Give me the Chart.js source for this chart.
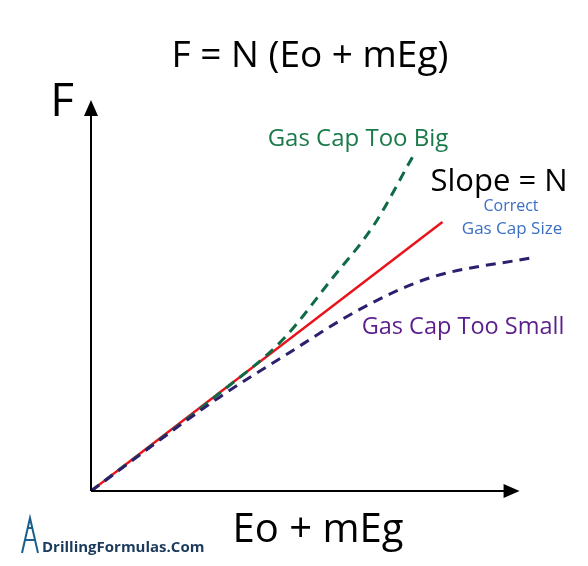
<!DOCTYPE html>
<html>
<head>
<meta charset="utf-8">
<script src="https://cdn.jsdelivr.net/npm/chart.js@4"></script>
<style>
  body { margin: 0; background: #fff; }
  #wrap { width: 588px; height: 566px; }
</style>
</head>
<body>
<div id="wrap"><canvas id="c"></canvas></div>
<script>
// data (x, y in arbitrary axis units)
const correctX = [0, 82];
const correctY = [0, 68.8];
const bigX = [0, 30, 45, 56, 66, 75];
const bigY = [0, 25, 39, 54, 68, 85.4];
const smallX = [0, 30, 45, 62.8, 79, 103.6];
const smallY = [0, 24, 34.5, 46.5, 54.5, 59.8];

const pts = (xs, ys) => xs.map((x, i) => ({ x: x, y: ys[i] }));
const FONT = '"Open Sans", "Noto Sans", sans-serif';

// axes with arrow heads plus all the labels
const decor = {
  id: 'decor',
  afterDraw(chart) {
    const ctx = chart.ctx;
    const xs = chart.scales.x, ys = chart.scales.y;
    const ox = xs.getPixelForValue(0), oy = ys.getPixelForValue(0);
    const xe = xs.getPixelForValue(100), ye = ys.getPixelForValue(100);
    ctx.save();
    ctx.strokeStyle = '#000';
    ctx.fillStyle = '#000';
    ctx.lineWidth = 2;
    ctx.beginPath();
    ctx.moveTo(ox, oy); ctx.lineTo(xe - 8, oy);
    ctx.moveTo(ox, oy); ctx.lineTo(ox, ye + 8);
    ctx.stroke();
    ctx.beginPath();
    ctx.moveTo(xe, oy); ctx.lineTo(xe - 16, oy - 7); ctx.lineTo(xe - 16, oy + 7); ctx.closePath();
    ctx.moveTo(ox, ye); ctx.lineTo(ox - 7, ye + 16); ctx.lineTo(ox + 7, ye + 16); ctx.closePath();
    ctx.fill();

    const txt = (s, x, y, size, color) => {
      ctx.font = size + 'px ' + FONT;
      ctx.fillStyle = color;
      ctx.textAlign = 'center';
      ctx.textBaseline = 'middle';
      ctx.fillText(s, x, y);
    };
    txt('F = N (Eo + mEg)', 310, 56, 37, '#000');
    txt('F', 62, 103, 46, '#000');
    txt('Eo + mEg', 318, 531, 40, '#000');
    txt('Gas Cap Too Big', 358, 139, 24, '#1a7a4a');
    txt('Slope = N', 499, 182, 31, '#000');
    txt('Correct', 511, 206, 16, '#3b6fc4');
    txt('Gas Cap Size', 512, 229, 17, '#3b6fc4');
    txt('Gas Cap Too Small', 463, 327, 23.5, '#5a1f8a');

    // logo
    ctx.strokeStyle = '#1b5e8c'; ctx.lineWidth = 2;
    ctx.beginPath();
    ctx.moveTo(22, 553); ctx.lineTo(30, 518); ctx.lineTo(38, 553);
    ctx.moveTo(25, 540); ctx.lineTo(35, 540);
    ctx.moveTo(27, 528); ctx.lineTo(33, 528);
    ctx.stroke();
    ctx.font = 'bold 15px ' + FONT;
    ctx.fillStyle = '#1b3a5c';
    ctx.textAlign = 'left';
    ctx.fillText('DrillingFormulas.Com', 42, 548);
    ctx.restore();
  }
};

new Chart(document.getElementById('c'), {
  type: 'line',
  data: {
    datasets: [
      { data: pts(smallX, smallY), borderColor: '#2e1f6e', borderWidth: 3, borderDash: [10, 7], cubicInterpolationMode: 'monotone', pointRadius: 0 },
      { data: pts(bigX, bigY), borderColor: '#0f6b45', borderWidth: 3, borderDash: [10, 7], cubicInterpolationMode: 'monotone', pointRadius: 0 },
      { data: pts(correctX, correctY), borderColor: '#e8131b', borderWidth: 2.5, pointRadius: 0 }
    ]
  },
  plugins: [decor],
  options: {
    responsive: true,
    maintainAspectRatio: false,
    animation: false,
    layout: { padding: { left: 91, top: 100, right: 47, bottom: 75 } },
    plugins: { legend: { display: false }, tooltip: { enabled: false } },
    scales: {
      x: { type: 'linear', min: 0, max: 105, display: false },
      y: { type: 'linear', min: 0, max: 100, display: false }
    }
  }
});
</script>
</body>
</html>
